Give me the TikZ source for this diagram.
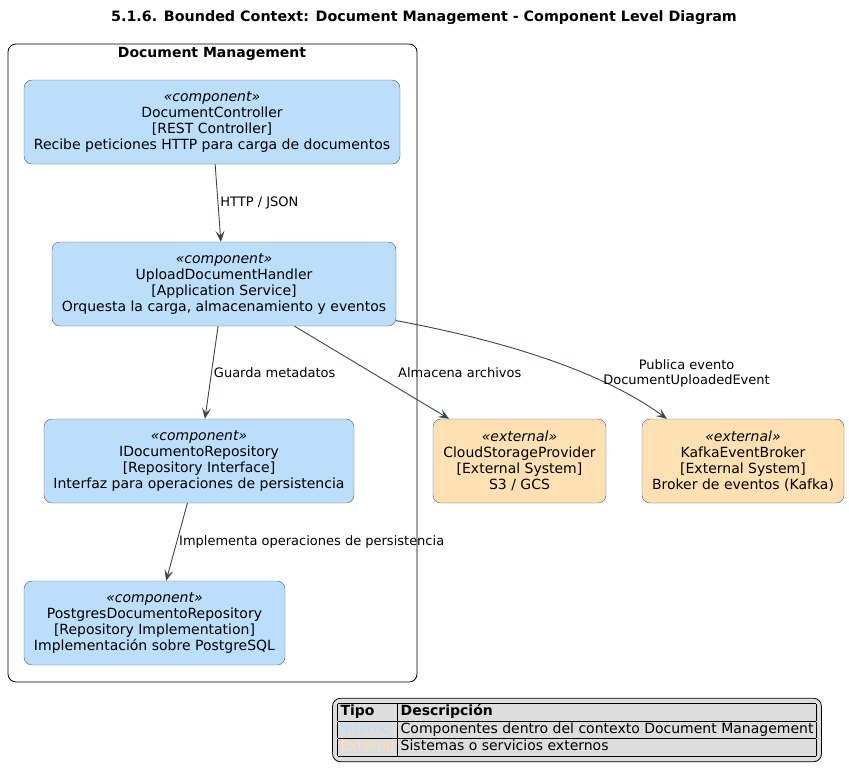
\documentclass[tikz,border=0pt]{standalone}
\usepackage{fontspec}
\setmainfont{DejaVu Sans}
\usetikzlibrary{arrows.meta,positioning}
\definecolor{compfill}{HTML}{BBDEFB}
\definecolor{extfill}{HTML}{FFE0B2}
\definecolor{boxline}{HTML}{4F5C66}
\definecolor{relline}{HTML}{37474F}
\definecolor{legendbg}{HTML}{DDDDDD}
\tikzset{
  font=\fontsize{14}{16}\selectfont,
  comp/.style={
    draw=boxline,
    fill=compfill,
    rounded corners=8pt,
    align=center,
    minimum height=84pt,
    inner sep=0pt
  },
  ext/.style={
    comp,
    fill=extfill
  },
  boundary/.style={
    draw,
    thick,
    rounded corners=8pt,
    inner sep=0pt
  },
  rel/.style={-{Stealth[length=11pt,width=9pt,inset=5pt,fill=relline]}, draw=relline, line width=0.9pt},
  rellabel/.style={font=\fontsize{13}{15}\selectfont, text=black, inner sep=2pt}
}
\newcommand{\stereo}[1]{\textit{«#1»}}
\newcommand{\techn}[1]{{[#1]}}

\begin{document}
\begin{tikzpicture}[x=1pt,y=-1pt]
\useasboundingbox (0,0) rectangle (849,780);

\node[font=\fontsize{14.3}{16}\selectfont\bfseries] (title) at (424,18) {5.1.6. Bounded Context: Document Management - Component Level Diagram};

% Bounded context
\draw[boundary] (8,44) rectangle (417,682);
\node[font=\fontsize{14}{16}\selectfont\bfseries] (ctxname) at (212,54) {Document Management};

\node[comp, minimum width=376pt] (ctrl) at (212,122) {\stereo{component}\\DocumentController\\\techn{REST Controller}\\Recibe peticiones HTTP para carga de documentos};
\node[comp, minimum width=344pt] (upload) at (224,284) {\stereo{component}\\UploadDocumentHandler\\\techn{Application Service}\\Orquesta la carga, almacenamiento y eventos};
\node[comp, minimum width=310pt] (irepo) at (199,461) {\stereo{component}\\IDocumentoRepository\\\techn{Repository Interface}\\Interfaz para operaciones de persistencia};
\node[comp, minimum width=261pt] (pgrepo) at (154.5,623) {\stereo{component}\\PostgresDocumentoRepository\\\techn{Repository Implementation}\\Implementación sobre PostgreSQL};

% External systems
\node[ext, minimum width=173pt] (storage) at (519.5,461) {\stereo{external}\\CloudStorageProvider\\\techn{External System}\\S3 / GCS};
\node[ext, minimum width=202pt] (kafka) at (743,461) {\stereo{external}\\KafkaEventBroker\\\techn{External System}\\Broker de eventos (Kafka)};

% Relations
\draw[rel] (ctrl) -- node[rellabel, right] {HTTP / JSON} (upload);
\draw[rel] (upload) -- node[rellabel, right] {Guarda metadatos} (irepo);
\draw[rel] (upload) -- node[rellabel, right, xshift=24pt] {Almacena archivos} (storage);
\draw[rel] (upload.-12) .. controls (500,340) and (600,370) .. node[rellabel, pos=0.7, align=center, xshift=88pt, yshift=6pt] {Publica evento\\DocumentUploadedEvent} (kafka.151);
\draw[rel] (irepo) -- node[rellabel, right] {Implementa operaciones de persistencia} (pgrepo);

% Legend
\node[draw, thick, fill=legendbg, rounded corners=8pt, inner sep=5pt, font=\fontsize{14}{16.5}\selectfont] (legend) at (577,730) {%
  \setlength{\arrayrulewidth}{1pt}\setlength{\tabcolsep}{3pt}%
  \begin{tabular}{|l|l|}
  \hline
  \textbf{Tipo} & \textbf{Descripción}\\
  \hline
  \textcolor{compfill}{Interno} & Componentes dentro del contexto Document Management\\
  \hline
  \textcolor{extfill}{Externo} & Sistemas o servicios externos\\
  \hline
  \end{tabular}};

\end{tikzpicture}
\end{document}
